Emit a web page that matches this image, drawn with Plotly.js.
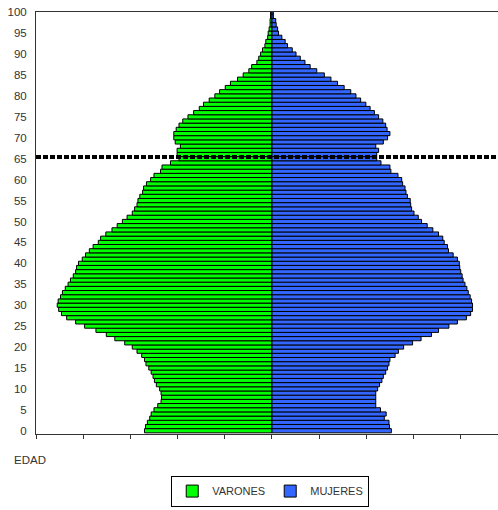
<!DOCTYPE html>
<html>
<head>
<meta charset="utf-8">
<script src="https://cdn.plot.ly/plotly-3.0.1.min.js"></script>
<style>html,body{margin:0;padding:0;background:#fff;}#chart{width:498px;height:510px;}</style>
</head>
<body>
<div id="chart"></div>
<script>
// Ages 0..100
const edades = Array.from({length: 101}, (_, i) => i);
const varones = [
  2.70, 2.68, 2.64, 2.59, 2.56, 2.50, 2.42, 2.35, 2.34, 2.35,
  2.38, 2.45, 2.49, 2.52, 2.56, 2.61, 2.67, 2.70, 2.76, 2.86,
  2.96, 3.12, 3.33, 3.51, 3.73, 3.97, 4.16, 4.35, 4.46, 4.52,
  4.55, 4.53, 4.48, 4.44, 4.38, 4.32, 4.27, 4.21, 4.16, 4.14,
  4.10, 4.02, 3.95, 3.87, 3.79, 3.68, 3.63, 3.52, 3.39, 3.28,
  3.17, 3.07, 2.96, 2.91, 2.86, 2.84, 2.80, 2.74, 2.72, 2.66,
  2.57, 2.50, 2.36, 2.33, 2.15, 1.97, 2.01, 2.01, 1.94, 2.05,
  2.08, 2.08, 2.03, 1.97, 1.89, 1.78, 1.66, 1.54, 1.45, 1.33,
  1.21, 1.11, 0.99, 0.88, 0.73, 0.61, 0.49, 0.43, 0.32, 0.28,
  0.24, 0.20, 0.15, 0.13, 0.09, 0.08, 0.06, 0.04, 0.04, 0.03,
  0.03
];
const mujeres = [
  2.53, 2.49, 2.48, 2.38, 2.42, 2.30, 2.20, 2.20, 2.20, 2.20,
  2.24, 2.28, 2.33, 2.36, 2.41, 2.45, 2.48, 2.50, 2.61, 2.68,
  2.79, 2.98, 3.16, 3.38, 3.53, 3.75, 3.93, 4.12, 4.21, 4.25,
  4.25, 4.23, 4.20, 4.16, 4.13, 4.09, 4.05, 4.03, 4.00, 3.98,
  3.97, 3.93, 3.84, 3.74, 3.72, 3.65, 3.62, 3.53, 3.41, 3.29,
  3.17, 3.10, 3.01, 2.96, 2.94, 2.93, 2.87, 2.84, 2.82, 2.77,
  2.75, 2.67, 2.52, 2.50, 2.31, 2.22, 2.22, 2.26, 2.20, 2.36,
  2.45, 2.50, 2.44, 2.41, 2.35, 2.26, 2.17, 2.08, 1.99, 1.88,
  1.78, 1.67, 1.53, 1.39, 1.25, 1.11, 0.95, 0.81, 0.70, 0.60,
  0.51, 0.43, 0.33, 0.28, 0.21, 0.14, 0.12, 0.09, 0.08, 0.03,
  0.03
];
const xTicks = [-5, -4, -3, -2, -1, 0, 1, 2, 3, 4];
const yTicks = [0,5,10,15,20,25,30,35,40,45,50,55,60,65,70,75,80,85,90,95,100];
const lineaEdad = 65.4;
const nombres = ['VARONES', 'MUJERES'];

const font = {family: 'Liberation Sans, Arial, sans-serif', size: 11.5, color: '#333'};

const traces = [
  {
    type: 'bar', orientation: 'h', name: nombres[0],
    y: edades, x: varones.map(v => -v),
    marker: {color: '#00ff00', line: {color: '#000', width: 1}},
    hoverinfo: 'skip'
  },
  {
    type: 'bar', orientation: 'h', name: nombres[1],
    y: edades, x: mujeres,
    marker: {color: '#3366ff', line: {color: '#000', width: 1}},
    hoverinfo: 'skip'
  }
];

const layout = {
  width: 498, height: 510,
  margin: {l: 36, r: 0, t: 12, b: 76},
  paper_bgcolor: '#fff', plot_bgcolor: '#fff',
  font: font,
  barmode: 'overlay', bargap: 0,
  showlegend: true,
  legend: {
    orientation: 'h', x: 0.507, xanchor: 'center', y: -0.172, yanchor: 'bottom',
    bordercolor: '#000', borderwidth: 1, font: {family: font.family, size: 11, color: '#333'},
    itemwidth: 30, traceorder: 'normal'
  },
  xaxis: {
    range: [-5, 4.79], tickvals: xTicks, showticklabels: false,
    ticks: 'outside', ticklen: 4, tickcolor: '#333', tickwidth: 1,
    showgrid: false, zeroline: false,
    showline: true, linecolor: '#333', linewidth: 1, mirror: true
  },
  yaxis: {
    range: [-0.78, 100.05], tickvals: yTicks, ticktext: yTicks.map(String),
    ticks: '', showgrid: false, zeroline: false,
    showline: true, linecolor: '#333', linewidth: 1,
    ticklabelstandoff: 6, tickfont: font
  },
  shapes: [
    {type: 'line', xref: 'paper', yref: 'y', x0: 0, x1: 1, y0: lineaEdad, y1: lineaEdad,
     line: {color: '#000', width: 4, dash: '5px,2px'}}
  ],
  annotations: [
    {text: 'EDAD', xref: 'paper', yref: 'paper', x: -0.052, y: -0.062, xanchor: 'left', yanchor: 'middle',
     showarrow: false, font: {family: font.family, size: 11.5, color: '#333'}}
  ]
};

Plotly.newPlot('chart', traces, layout, {displayModeBar: false, staticPlot: true});
</script>
</body>
</html>
